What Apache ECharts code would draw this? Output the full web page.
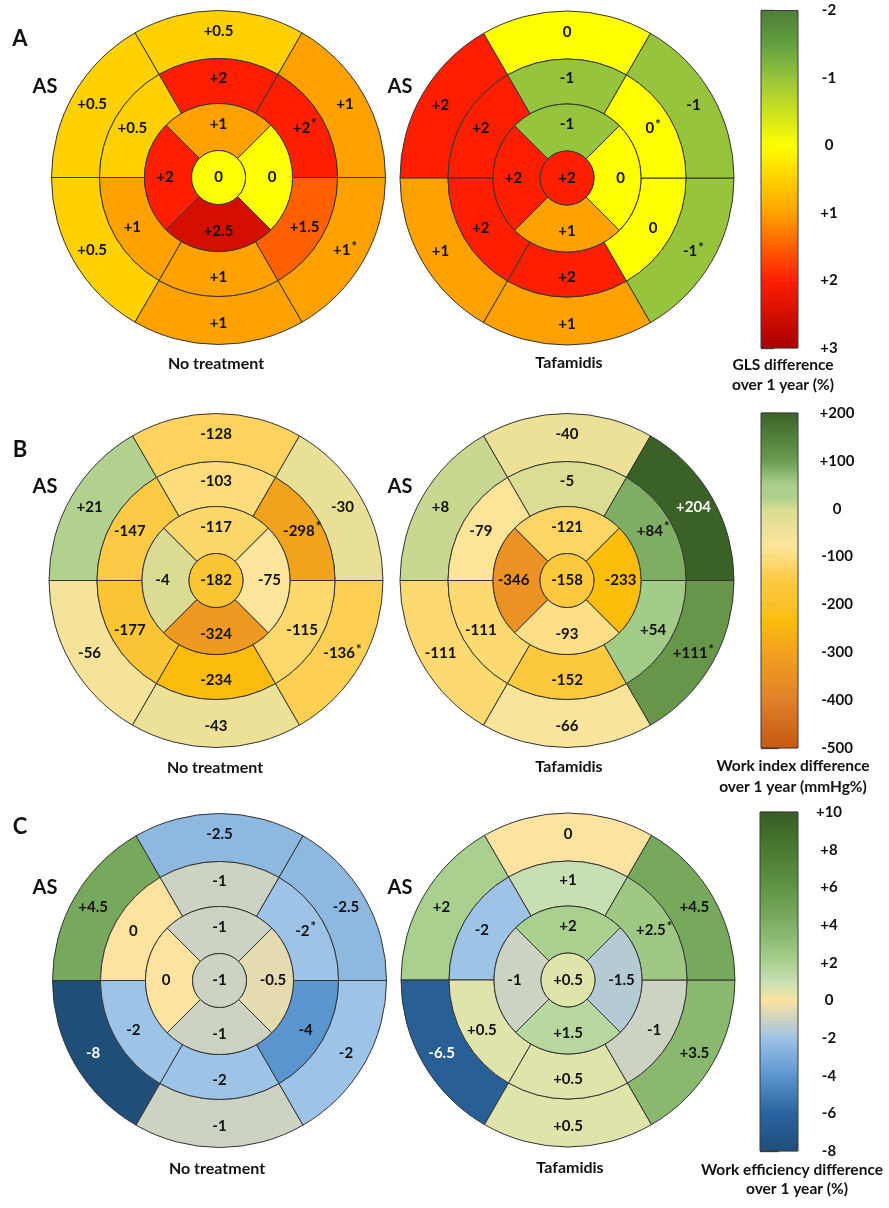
<!DOCTYPE html>
<html><head><meta charset="utf-8">
<script src="https://cdn.jsdelivr.net/npm/echarts@6/dist/echarts.min.js"></script>
<style>html,body{margin:0;padding:0;background:#fff}#c{width:889px;height:1208px}</style>
</head><body><div id="c"></div>
<script>
// ===== DATA =====
// Ring order (AHA 17-segment): basal/mid = anterior(top), anteroseptal, inferoseptal, inferior, inferolateral, anterolateral
// apical = anterior, septal, inferior, lateral ; apex = segment 17
const A_none_basal  = [0.5, 0.5, 0.5, 1, 1, 1];
const A_none_mid    = [2, 0.5, 1, 1, 1.5, 2];
const A_none_apical = [1, 2, 2.5, 0];
const A_none_apex   = [0];
const A_none_sig    = [5, 12];
const A_tafa_basal  = [0, 2, 1, 1, -1, -1];
const A_tafa_mid    = [-1, 2, 2, 2, 0, 0];
const A_tafa_apical = [-1, 2, 1, 0];
const A_tafa_apex   = [2];
const A_tafa_sig    = [5, 12];

const B_none_basal  = [-128, 21, -56, -43, -136, -30];
const B_none_mid    = [-103, -147, -177, -234, -115, -298];
const B_none_apical = [-117, -4, -324, -75];
const B_none_apex   = [-182];
const B_none_sig    = [5, 12];
const B_tafa_basal  = [-40, 8, -111, -66, 111, 204];
const B_tafa_mid    = [-5, -79, -111, -152, 54, 84];
const B_tafa_apical = [-121, -346, -93, -233];
const B_tafa_apex   = [-158];
const B_tafa_sig    = [5, 12];

const C_none_basal  = [-2.5, 4.5, -8, -1, -2, -2.5];
const C_none_mid    = [-1, 0, -2, -2, -4, -2];
const C_none_apical = [-1, 0, -1, -0.5];
const C_none_apex   = [-1];
const C_none_sig    = [12];
const C_tafa_basal  = [0, 2, -6.5, 0.5, 3.5, 4.5];
const C_tafa_mid    = [1, -2, 0.5, 0.5, -1, 2.5];
const C_tafa_apical = [2, -1, 1.5, -1.5];
const C_tafa_apex   = [0.5];
const C_tafa_sig    = [12];

// colour-bar tick labels
const A_ticks = [-2, -1, 0, 1, 2, 3];
const B_ticks = [200, 100, 0, -100, -200, -300, -400, -500];
const C_ticks = [10, 8, 6, 4, 2, 0, -2, -4, -6, -8];

// ===== STYLE: colour scales =====
const A_stopVals = [-2, -1.5, -1, 0, 1, 2, 3];
const A_stopCols = ['#4d7d38', '#62a040', '#96c43c', '#ffff00', '#ffa200', '#ff1e00', '#a80000'];
const B_stopVals = [-500, -400, -300, -230, -200, -150, -130, -100, -75, 0, 20, 50, 100, 200];
const B_stopCols = ['#c55a11', '#e0802a', '#f2a21e', '#fcbe0a', '#fcc22c', '#fcc940', '#fdd25a', '#fddd80', '#fde59c', '#d8dc92', '#b2d18e', '#a9d08e', '#6c9c50', '#3a6226'];
const C_stopVals = [-8, -6, -4, -2, 0, 0.5, 1, 2, 4, 6, 8, 10];
const C_stopCols = ['#1f4e79', '#2a64a0', '#5b95cf', '#9dc3e6', '#fde39f', '#dfe4ab', '#c8dfb2', '#a9d08e', '#7fb065', '#5e9444', '#4a7a30', '#375d23'];

// ===== LAYOUT =====
const RADII = { apex: [0, 27], apical: [27, 74], mid: [74, 119], basal: [119, 167] };
const FONT = 'Lato';
const INK = '#111111';

function hex(h) { return [parseInt(h.slice(1, 3), 16), parseInt(h.slice(3, 5), 16), parseInt(h.slice(5, 7), 16)]; }
function colorAt(vals, cols, v) {
  if (v <= vals[0]) return hex(cols[0]);
  if (v >= vals[vals.length - 1]) return hex(cols[cols.length - 1]);
  for (let i = 0; i < vals.length - 1; i++) {
    if (v >= vals[i] && v <= vals[i + 1]) {
      const t = (v - vals[i]) / (vals[i + 1] - vals[i]);
      const a = hex(cols[i]), b = hex(cols[i + 1]);
      return a.map((x, k) => Math.round(x + (b[k] - x) * t));
    }
  }
}
function lum(rgb) {
  const f = c => { c /= 255; return c <= 0.03928 ? c / 12.92 : Math.pow((c + 0.055) / 1.055, 2.4); };
  return 0.2126 * f(rgb[0]) + 0.7152 * f(rgb[1]) + 0.0722 * f(rgb[2]);
}
function fmt(v) { return v > 0 ? '+' + v : String(v); }

function ring(center, radius, values, startAngle, segStart, sig, scale, isApex) {
  return {
    type: 'pie', center: center, radius: radius, startAngle: startAngle, clockwise: false,
    silent: true, animation: false, avoidLabelOverlap: false,
    emphasis: { disabled: true },
    itemStyle: { borderColor: '#333', borderWidth: 1 },
    labelLine: { show: false },
    label: {
      show: true, position: isApex ? 'center' : 'inside',
      formatter: p => p.data.star ? '{v|' + p.data.txt + '}{s|*}' : '{v|' + p.data.txt + '}',
      rich: {
        v: { fontSize: 15, fontWeight: 'bold', fontFamily: FONT },
        s: { fontSize: 13, fontWeight: 'bold', fontFamily: FONT, padding: [0, 0, 7, 1] }
      }
    },
    data: values.map((v, i) => {
      const rgb = colorAt(scale[0], scale[1], v);
      return {
        value: 1, name: 'S' + (segStart + i), txt: fmt(v), star: sig.indexOf(segStart + i) >= 0,
        itemStyle: { color: 'rgb(' + rgb.join(',') + ')' },
        label: { color: lum(rgb) < 0.13 ? '#ffffff' : INK }
      };
    })
  };
}
function bullseye(center, basal, mid, apical, apex, sig, scale) {
  return [
    ring(center, RADII.basal, basal, 60, 1, sig, scale, false),
    ring(center, RADII.mid, mid, 60, 7, sig, scale, false),
    ring(center, RADII.apical, apical, 45, 13, sig, scale, false),
    ring(center, RADII.apex, apex, 90, 17, sig, scale, true)
  ];
}

const series = [].concat(
  bullseye([218.5, 177.5], A_none_basal, A_none_mid, A_none_apical, A_none_apex, A_none_sig, [A_stopVals, A_stopCols]),
  bullseye([567, 178], A_tafa_basal, A_tafa_mid, A_tafa_apical, A_tafa_apex, A_tafa_sig, [A_stopVals, A_stopCols]),
  bullseye([216, 580.5], B_none_basal, B_none_mid, B_none_apical, B_none_apex, B_none_sig, [B_stopVals, B_stopCols]),
  bullseye([567, 580.5], B_tafa_basal, B_tafa_mid, B_tafa_apical, B_tafa_apex, B_tafa_sig, [B_stopVals, B_stopCols]),
  bullseye([219.5, 980.5], C_none_basal, C_none_mid, C_none_apical, C_none_apex, C_none_sig, [C_stopVals, C_stopCols]),
  bullseye([568, 980], C_tafa_basal, C_tafa_mid, C_tafa_apical, C_tafa_apex, C_tafa_sig, [C_stopVals, C_stopCols])
);

// ===== colour bars =====
const bars = [
  { ticks: A_ticks, vals: A_stopVals, cols: A_stopCols, inverse: true, grid: { left: 761, top: 10.5, width: 37, height: 337.5 }, tick: 13, margin: 31 },
  { ticks: B_ticks, vals: B_stopVals, cols: B_stopCols, inverse: false, grid: { left: 761, top: 413, width: 37, height: 335 }, tick: 18, margin: 39 },
  { ticks: C_ticks, vals: C_stopVals, cols: C_stopCols, inverse: false, grid: { left: 760, top: 812, width: 38, height: 339 }, tick: 19, margin: 31 }
];
const grids = [], xAxes = [], yAxes = [];
bars.forEach((b, gi) => {
  grids.push(Object.assign({ show: true, z: 5, borderColor: '#3a3a3a', borderWidth: 1, backgroundColor: 'transparent', containLabel: false, outerBoundsMode: 'none' }, b.grid));
  xAxes.push({ gridIndex: gi, type: 'value', min: 0, max: 1, show: false });
  const tmin = Math.min.apply(null, b.ticks), tmax = Math.max.apply(null, b.ticks);
  yAxes.push({
    gridIndex: gi, type: 'value', min: tmin, max: tmax, interval: Math.abs(b.ticks[1] - b.ticks[0]),
    inverse: b.inverse, position: 'right',
    axisLine: { show: false },
    axisTick: { show: true, inside: false, length: b.tick, lineStyle: { color: '#333', width: 1.3 } },
    axisLabel: { show: true, margin: b.margin, align: 'center', formatter: fmt, fontWeight: 'bold', fontSize: 15, color: INK, fontFamily: FONT, showMinLabel: true, showMaxLabel: true },
    splitLine: { show: false }
  });
  const segs = [];
  for (let i = 0; i < b.vals.length - 1; i++) segs.push([0.5, b.vals[i], b.vals[i + 1]]);
  series.push({
    type: 'custom', xAxisIndex: gi, yAxisIndex: gi, silent: true, animation: false, z: 2, clip: false,
    encode: { x: 0, y: [1, 2] },
    data: segs,
    renderItem: (params, api) => {
      const cs = params.coordSys;
      const i = params.dataIndex;
      const y0 = api.coord([0.5, api.value(1)])[1];
      const y1 = api.coord([0.5, api.value(2)])[1];
      const top = Math.min(y0, y1), h = Math.abs(y1 - y0);
      const cTop = y0 < y1 ? b.cols[i] : b.cols[i + 1];
      const cBot = y0 < y1 ? b.cols[i + 1] : b.cols[i];
      return {
        type: 'rect',
        shape: { x: cs.x, y: top - 0.3, width: cs.width, height: h + 0.6 },
        style: { fill: new echarts.graphic.LinearGradient(0, 0, 0, 1, [{ offset: 0, color: cTop }, { offset: 1, color: cBot }]) }
      };
    }
  });
});

// ===== texts =====
const texts = [
  ['A', 20, 39, 22], ['B', 20, 450, 22], ['C', 20, 827, 22],
  ['AS', 45, 87, 20], ['AS', 400, 87, 20],
  ['AS', 45, 487, 20], ['AS', 400, 487, 20],
  ['AS', 45, 888, 20], ['AS', 400, 888, 20],
  ['No treatment', 216, 364, 16], ['Tafamidis', 569, 363, 16],
  ['No treatment', 215, 768, 16], ['Tafamidis', 569, 767, 16],
  ['No treatment', 217, 1169, 16], ['Tafamidis', 570, 1168, 16],
  ['GLS difference', 783, 365, 15.5], ['over 1 year (%)', 783, 385, 15.5],
  ['Work index difference', 793, 766, 15.5], ['over 1 year (mmHg%)', 793, 787, 15.5],
  ['Work efficiency difference', 792, 1170, 15.5], ['over 1 year (%)', 797, 1189, 15.5]
];

const chart = echarts.init(document.getElementById('c'), null, { renderer: 'canvas' });
chart.setOption({
  animation: false,
  backgroundColor: '#ffffff',
  textStyle: { fontFamily: FONT },
  grid: grids, xAxis: xAxes, yAxis: yAxes,
  series: series,
  graphic: {
    elements: texts.map(t => ({
      type: 'text', x: t[1], y: t[2], silent: true, z: 10,
      style: { text: t[0], fill: INK, font: 'bold ' + t[3] + 'px ' + FONT, align: 'center', verticalAlign: 'middle' }
    }))
  }
});
</script>
</body></html>
